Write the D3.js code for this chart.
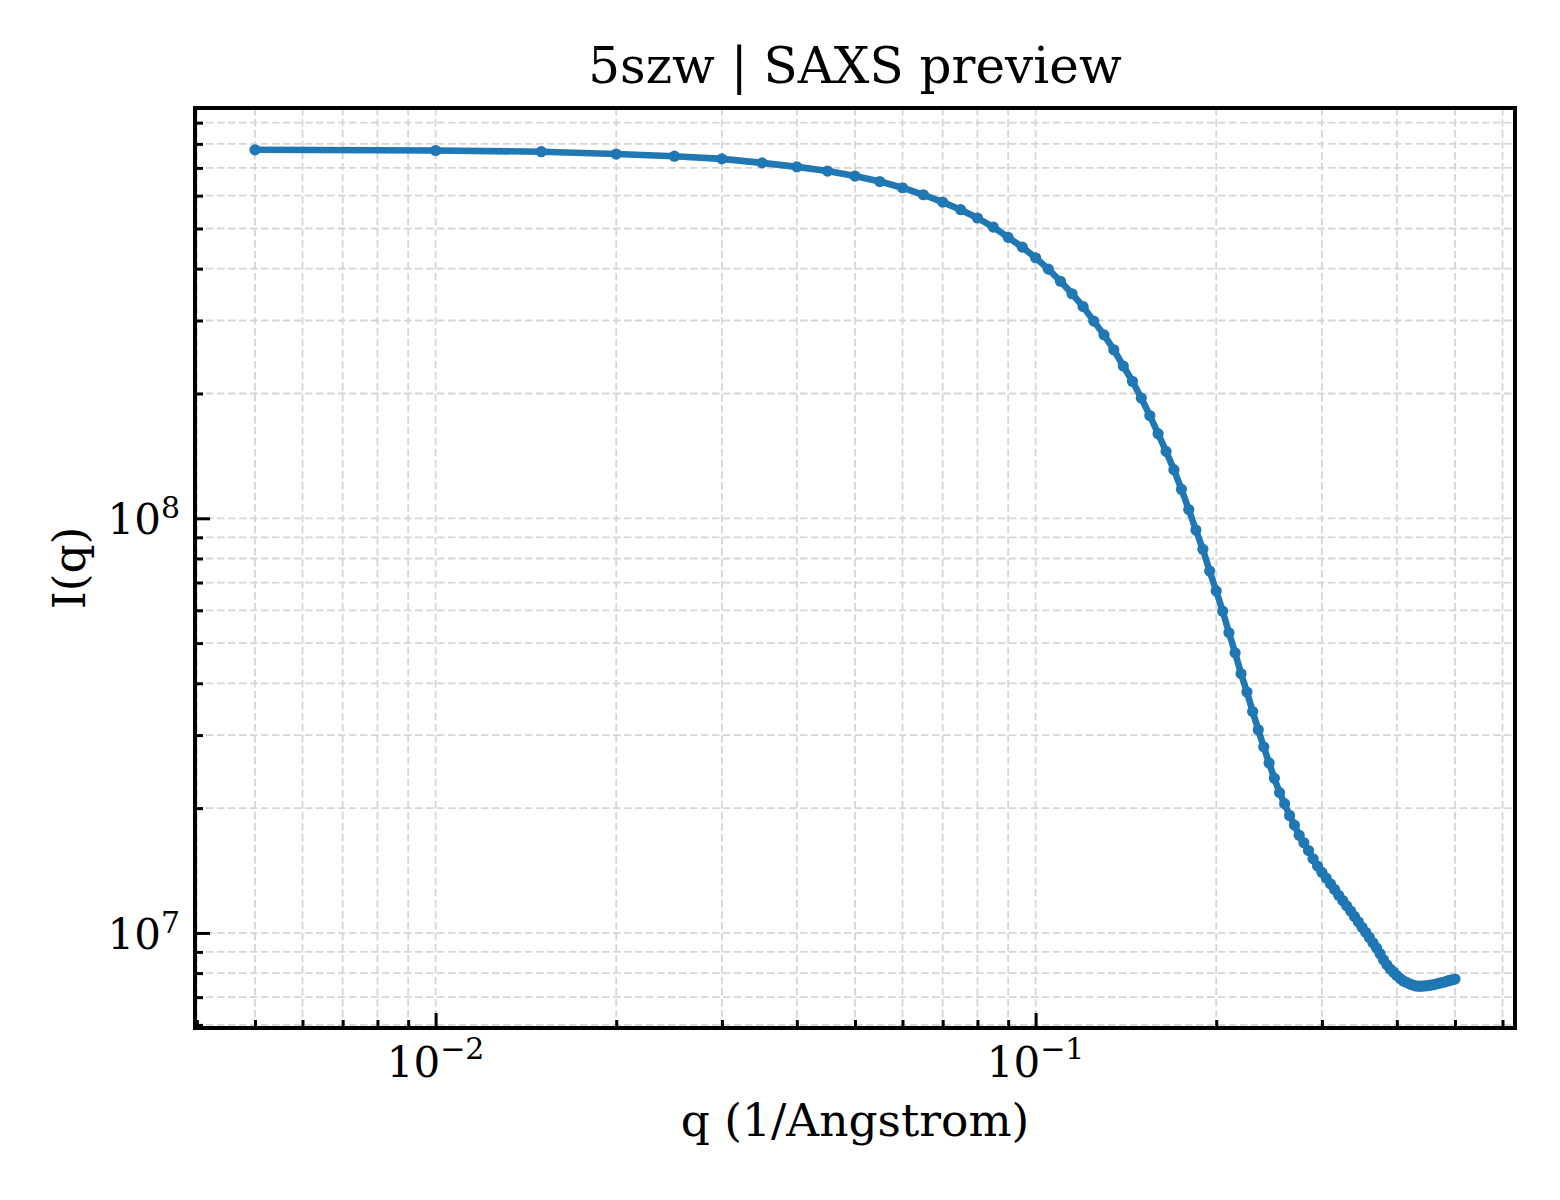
<!DOCTYPE html>
<html>
<head>
<meta charset="utf-8">
<script src="https://cdn.jsdelivr.net/npm/d3@7"></script>
<style>
body { margin: 0; background: #ffffff; }
text { font-family: "DejaVu Serif", serif; fill: #000; }
</style>
</head>
<body>
<script>
// q values (1/Angstrom)
const qValues = [
  0.005, 0.010, 0.015, 0.020, 0.025, 0.030, 0.035, 0.040, 0.045, 0.050,
  0.055, 0.060, 0.065, 0.070, 0.075, 0.080, 0.085, 0.090, 0.095, 0.100,
  0.105, 0.110, 0.115, 0.120, 0.125, 0.130, 0.135, 0.140, 0.145, 0.150,
  0.155, 0.160, 0.165, 0.170, 0.175, 0.180, 0.185, 0.190, 0.195, 0.200,
  0.205, 0.210, 0.215, 0.220, 0.225, 0.230, 0.235, 0.240, 0.245, 0.250,
  0.255, 0.260, 0.265, 0.270, 0.275, 0.280, 0.285, 0.290, 0.295, 0.300,
  0.305, 0.310, 0.315, 0.320, 0.325, 0.330, 0.335, 0.340, 0.345, 0.350,
  0.355, 0.360, 0.365, 0.370, 0.375, 0.380, 0.385, 0.390, 0.395, 0.400,
  0.405, 0.410, 0.415, 0.420, 0.425, 0.430, 0.435, 0.440, 0.445, 0.450,
  0.455, 0.460, 0.465, 0.470, 0.475, 0.480, 0.485, 0.490, 0.495, 0.500
]

// I(q) estimated from the curve
const intensity = [
  7.74e8, 7.71e8, 7.66e8, 7.56e8, 7.47e8, 7.36e8, 7.20e8, 7.04e8, 6.88e8, 6.69e8,
  6.49e8, 6.27e8, 6.03e8, 5.79e8, 5.55e8, 5.30e8, 5.04e8, 4.76e8, 4.51e8, 4.25e8,
  3.99e8, 3.73e8, 3.48e8, 3.24e8, 2.99e8, 2.77e8, 2.55e8, 2.33e8, 2.14e8, 1.95e8,
  1.77e8, 1.60e8, 1.45e8, 1.31e8, 1.175e8, 1.05e8, 9.37e7, 8.42e7, 7.46e7, 6.68e7,
  5.97e7, 5.30e7, 4.74e7, 4.22e7, 3.81e7, 3.42e7, 3.09e7, 2.81e7, 2.57e7, 2.36e7,
  2.18e7, 2.05e7, 1.92e7, 1.82e7, 1.72e7, 1.65e7, 1.58e7, 1.51e7, 1.45e7, 1.40e7,
  1.356e7, 1.314e7, 1.273e7, 1.232e7, 1.197e7, 1.162e7, 1.129e7, 1.096e7, 1.064e7, 1.032e7,
  1.003e7, 9.75e6, 9.47e6, 9.20e6, 8.91e6, 8.62e6, 8.38e6, 8.18e6, 8.04e6, 7.89e6,
  7.77e6, 7.66e6, 7.60e6, 7.54e6, 7.49e6, 7.45e6, 7.44e6, 7.44e6, 7.45e6, 7.46e6,
  7.48e6, 7.50e6, 7.53e6, 7.56e6, 7.59e6, 7.61e6, 7.65e6, 7.68e6, 7.71e6, 7.74e6
]

const xLabelTicks = [1e-2, 1e-1]
const yLabelTicks = [1e7, 1e8]

const titleText = "5szw | SAXS preview"
const xTitle = "q (1/Angstrom)"
const yTitle = "I(q)"

let width = 1560
let height = 1200
let plotLeft = 195
let plotRight = 1515
let plotTop = 108
let plotBottom = 1028

let lineColor = "#1f77b4"
let gridColor = "#d6d6d6"

let svg = d3.select("body")
  .append("svg")
  .attr("width", width)
  .attr("height", height)
  .style("background", "#ffffff")

// matplotlib style 5% margin in log space
function padLog(ext) {
  let a = Math.log10(ext[0])
  let b = Math.log10(ext[1])
  let m = (b - a) * 0.05
  return [Math.pow(10, a - m), Math.pow(10, b + m)]
}

let x = d3.scaleLog().domain(padLog(d3.extent(qValues))).range([plotLeft, plotRight])
let y = d3.scaleLog().domain(padLog(d3.extent(intensity))).range([plotBottom, plotTop])

let isDecade = v => Math.abs(Math.log10(v) - Math.round(Math.log10(v))) < 1e-9

let xAll = x.ticks()
let yAll = y.ticks()
let xMinor = xAll.filter(v => !isDecade(v))
let yMinor = yAll.filter(v => !isDecade(v))
let xMajor = xAll.filter(isDecade)
let yMajor = yAll.filter(isDecade)

// grid (major + minor, dashed)
let grid = svg.append("g")
grid.selectAll(".vgrid")
  .data(xAll)
  .enter()
  .append("line")
  .attr("x1", d => x(d)).attr("x2", d => x(d))
  .attr("y1", plotTop).attr("y2", plotBottom)
  .attr("stroke", gridColor)
  .attr("stroke-width", 1.8)
  .attr("stroke-dasharray", "7.5,3.5")

grid.selectAll(".hgrid")
  .data(yAll)
  .enter()
  .append("line")
  .attr("x1", plotLeft).attr("x2", plotRight)
  .attr("y1", d => y(d)).attr("y2", d => y(d))
  .attr("stroke", gridColor)
  .attr("stroke-width", 1.8)
  .attr("stroke-dasharray", "7.5,3.5")

// curve
let line = d3.line()
  .x((d, i) => x(qValues[i]))
  .y(d => y(d))

svg.append("path")
  .datum(intensity)
  .attr("d", line)
  .attr("fill", "none")
  .attr("stroke", lineColor)
  .attr("stroke-width", 6.6)
  .attr("stroke-linejoin", "round")
  .attr("stroke-linecap", "round")

svg.append("g")
  .selectAll("circle")
  .data(intensity)
  .enter()
  .append("circle")
  .attr("cx", (d, i) => x(qValues[i]))
  .attr("cy", d => y(d))
  .attr("r", 5.6)
  .attr("fill", lineColor)

// ticks pointing inward
function styleTicks(g) {
  g.select(".domain").remove()
  g.selectAll(".tick line").attr("stroke", "#000").attr("stroke-width", 3)
  g.selectAll(".tick text").remove()
}

svg.append("g")
  .attr("transform", "translate(0," + plotBottom + ")")
  .call(d3.axisBottom(x).tickValues(xMinor).tickSize(-8).tickFormat(""))
  .call(styleTicks)
svg.append("g")
  .attr("transform", "translate(0," + plotBottom + ")")
  .call(d3.axisBottom(x).tickValues(xMajor).tickSize(-15).tickFormat(""))
  .call(styleTicks)
svg.append("g")
  .attr("transform", "translate(" + plotLeft + ",0)")
  .call(d3.axisLeft(y).tickValues(yMinor).tickSize(-8).tickFormat(""))
  .call(styleTicks)
svg.append("g")
  .attr("transform", "translate(" + plotLeft + ",0)")
  .call(d3.axisLeft(y).tickValues(yMajor).tickSize(-15).tickFormat(""))
  .call(styleTicks)

// frame
svg.append("rect")
  .attr("x", plotLeft).attr("y", plotTop)
  .attr("width", plotRight - plotLeft).attr("height", plotBottom - plotTop)
  .attr("fill", "none")
  .attr("stroke", "#000")
  .attr("stroke-width", 4)

// power-of-ten labels
function expText(v) {
  return String(Math.round(Math.log10(v))).replace("-", "\u2212")
}

let xl = svg.append("g").selectAll("text")
  .data(xLabelTicks)
  .enter()
  .append("text")
  .attr("x", d => x(d))
  .attr("y", plotBottom + 49)
  .attr("text-anchor", "middle")
  .style("font-size", "42px")
xl.append("tspan").text("10")
xl.append("tspan").attr("dy", -18).style("font-size", "30px").text(d => expText(d))

let yl = svg.append("g").selectAll("text")
  .data(yLabelTicks)
  .enter()
  .append("text")
  .attr("x", plotLeft - 15)
  .attr("y", d => y(d) + 16)
  .attr("text-anchor", "end")
  .style("font-size", "42px")
yl.append("tspan").text("10")
yl.append("tspan").attr("dy", -16).style("font-size", "30px").text(d => expText(d))

// titles
svg.append("text")
  .attr("x", (plotLeft + plotRight) / 2)
  .attr("y", 83)
  .attr("text-anchor", "middle")
  .style("font-size", "50px")
  .text(titleText)

svg.append("text")
  .attr("x", (plotLeft + plotRight) / 2)
  .attr("y", 1136)
  .attr("text-anchor", "middle")
  .style("font-size", "45.5px")
  .text(xTitle)

svg.append("text")
  .attr("transform", "translate(85," + (plotTop + plotBottom) / 2 + ") rotate(-90)")
  .attr("text-anchor", "middle")
  .style("font-size", "45.5px")
  .text(yTitle)
</script>
</body>
</html>
